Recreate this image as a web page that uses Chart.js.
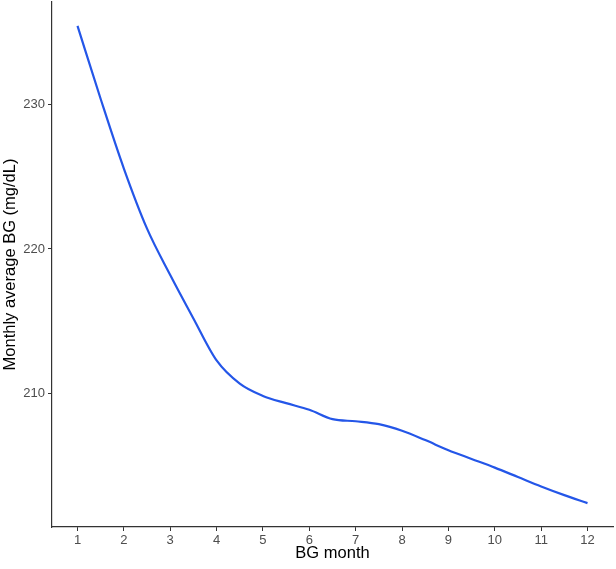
<!DOCTYPE html>
<html>
<head>
<meta charset="utf-8">
<script src="https://cdn.jsdelivr.net/npm/chart.js@4/dist/chart.umd.min.js"></script>
<style>
  html, body { margin: 0; padding: 0; background: #fff; }
  #wrap { width: 616px; height: 569px; }
</style>
</head>
<body>
<div id="wrap"><canvas id="chartBG"></canvas></div>
<script>
// months and smoothed monthly average BG
const months = [1, 1.5, 2, 2.5, 3, 3.5, 4, 4.5, 5, 5.5, 6, 6.5, 7, 7.5, 8, 8.5, 9, 9.5, 10, 10.5, 11, 11.5, 12];
const avgBG = [235.4, 230.35, 225.55, 221.4, 218.2, 215.2, 212.3, 210.7, 209.85, 209.35, 208.9, 208.25, 208.1, 207.9, 207.45, 206.8, 206.1, 205.5, 204.9, 204.25, 203.6, 203.0, 202.45];
const xTicks = [1, 2, 3, 4, 5, 6, 7, 8, 9, 10, 11, 12];
const yTicks = [210, 220, 230];

const points = months.map((m, i) => ({ x: m, y: avgBG[i] }));

const ctx = document.getElementById('chartBG').getContext('2d');
new Chart(ctx, {
    type: 'line',
    data: {
        datasets: [{
            label: 'Monthly average BG',
            data: points,
            borderColor: '#2456e8',
            borderWidth: 2.2,
            pointRadius: 0,
            fill: false,
            cubicInterpolationMode: 'monotone'
        }]
    },
    options: {
        responsive: true,
        maintainAspectRatio: false,
        animation: false,
        layout: { padding: { top: 2, right: 3, left: 0, bottom: 0 } },
        plugins: {
            legend: { display: false },
            tooltip: { enabled: false }
        },
        scales: {
            x: {
                type: 'linear',
                min: 0.45,
                max: 12.55,
                afterBuildTicks: (s) => { s.ticks = xTicks.map(v => ({ value: v })); },
                afterFit: (s) => { s.height = 42; },
                grid: { drawOnChartArea: false, drawTicks: true, tickLength: 4, color: '#333' },
                border: { display: true, color: '#333', width: 1.2 },
                ticks: { color: '#4d4d4d', font: { family: 'Liberation Sans', size: 13 }, padding: 2, maxRotation: 0 },
                title: { display: true, text: 'BG month', color: '#000', font: { family: 'Liberation Sans', size: 16.5 }, padding: { top: 0, bottom: 6 } }
            },
            y: {
                min: 200.8,
                max: 237.05,
                afterBuildTicks: (s) => { s.ticks = yTicks.map(v => ({ value: v })); },
                afterFit: (s) => { s.width = 52; s.paddingTop = 0; s.paddingBottom = 0; },
                grid: { drawOnChartArea: false, drawTicks: true, tickLength: 4, color: '#333' },
                border: { display: true, color: '#333', width: 1.2 },
                ticks: { color: '#4d4d4d', font: { family: 'Liberation Sans', size: 13 }, padding: 3 },
                title: { display: true, text: 'Monthly average BG (mg/dL)', color: '#000', font: { family: 'Liberation Sans', size: 16.5 }, padding: { top: 1, bottom: 0 } }
            }
        }
    }
});
</script>
</body>
</html>
